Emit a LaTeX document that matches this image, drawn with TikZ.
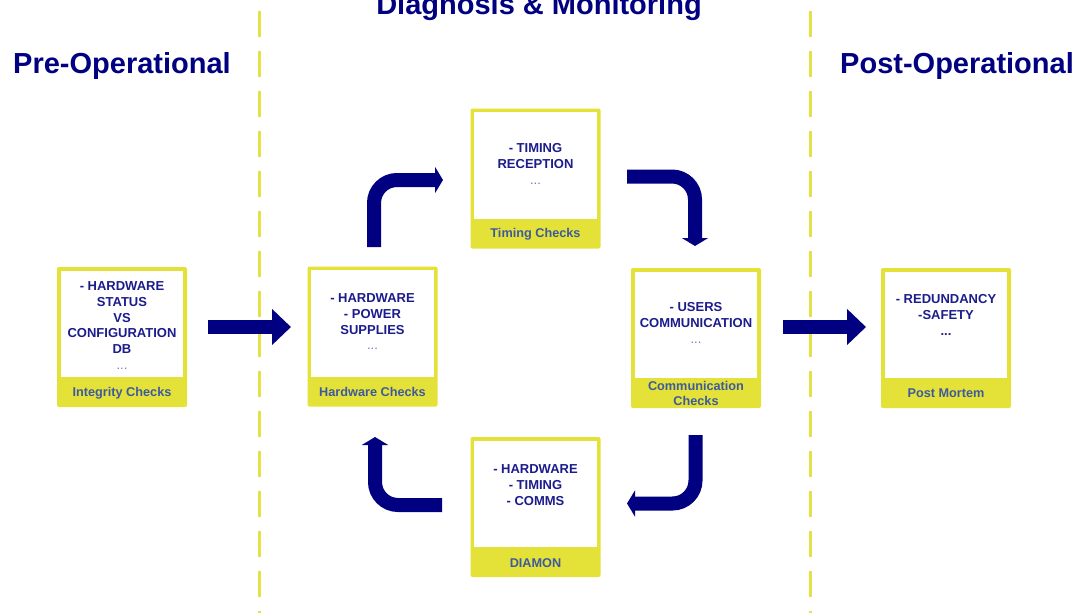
\documentclass[tikz,border=0pt]{standalone}
\usepackage{fontspec}
\setmainfont{Liberation Sans}
\usetikzlibrary{arrows.meta}
\definecolor{ybox}{RGB}{228,226,56}
\definecolor{yline}{RGB}{230,226,70}
\definecolor{navy}{RGB}{0,0,128}
\definecolor{boxtxt}{RGB}{28,28,140}
\definecolor{lbltxt}{RGB}{62,90,158}
\begin{document}
\begin{tikzpicture}[x=1pt,y=-1pt,
 panel/.style={fill=ybox, rounded corners=2pt, minimum width=130pt, minimum height=140pt, inner sep=0pt},
 body/.style={font=\fontsize{13}{15.75}\selectfont\bfseries, text=boxtxt, align=center, inner sep=0pt, anchor=north},
 lbl/.style={font=\fontsize{12.7}{15}\selectfont\bfseries, text=lbltxt, align=center, inner sep=0pt},
 head/.style={font=\fontsize{29}{34}\selectfont\bfseries, text=navy, inner sep=0pt, anchor=base west},
 sep/.style={draw=yline, line width=3pt, dash pattern=on 26pt off 14pt},
 bigarrow/.style={draw=navy, line width=14pt, -{Triangle[length=19pt,width=35pt]}},
 turnarrow/.style={draw=navy, line width=14pt, rounded corners=23pt, -{Triangle[length=8pt,width=26pt]}}
]
\useasboundingbox (0,0) rectangle (1077,613);

% separators
\coordinate (s1t) at (259,11); \coordinate (s1b) at (259,613);
\coordinate (s2t) at (810,11); \coordinate (s2b) at (810,613);
\draw[sep] (s1t) -- (s1b);
\draw[sep] (s2t) -- (s2b);

% headings
\node[head] (pre) at (13,73) {Pre-Operational};
\node[head] (post) at (840,73) {Post-Operational};
\node[head, anchor=base] (diag) at (539,15) {Diagnosis \& Monitoring};

% panels
\node[panel] (int) at (122,337) {};
\node[panel] (hw)  at (372.5,336.5) {};
\node[panel] (tim) at (535.5,178.5) {};
\node[panel] (com) at (696,338) {};
\node[panel] (dia) at (535.5,507) {};
\node[panel] (pm)  at (946,338) {};
\foreach \n in {int,hw,tim,com,dia,pm}{
  \fill[white] ([xshift=4pt,yshift=-4pt]\n.north west) rectangle ([xshift=-4pt,yshift=30pt]\n.south east);
}

% body texts
\node[body] (intt) at (122,281.4) {- HARDWARE\\STATUS\\VS\\CONFIGURATION\\DB\\{\mdseries\color{boxtxt!60}...}};
\node[body] (hwt)  at (372.5,293.4) {- HARDWARE\\- POWER\\SUPPLIES\\{\mdseries\color{boxtxt!60}...}};
\node[body] (timt) at (535.5,143.4) {- TIMING\\RECEPTION\\{\mdseries\color{boxtxt!60}...}};
\node[body] (comt) at (696,302.4) {- USERS\\COMMUNICATION\\{\mdseries\color{boxtxt!60}...}};
\node[body] (diat) at (535.5,464.4) {- HARDWARE\\- TIMING\\- COMMS};
\node[body] (pmt)  at (946,294.4) {- REDUNDANCY\\-SAFETY\\...};

% labels
\node[lbl] (intl) at (122,393) {Integrity Checks};
\node[lbl] (hwl)  at (372.5,392) {Hardware Checks};
\node[lbl] (timl) at (535.5,234.5) {Timing Checks};
\node[lbl] (coml) at (696,393.5) {Communication\\Checks};
\node[lbl] (dial) at (535.5,563) {DIAMON};
\node[lbl] (pml)  at (946,393.5) {Post Mortem};

% arrows
\coordinate (a1s) at (208,327); \coordinate (a1e) at (291,327);
\coordinate (a2s) at (783,327); \coordinate (a2e) at (866,327);
\draw[bigarrow] (a1s) -- (a1e);
\draw[bigarrow] (a2s) -- (a2e);

\coordinate (t1s) at (374,247);   \coordinate (t1e) at (443,180);
\coordinate (t2s) at (627,176.5); \coordinate (t2e) at (695,246);
\coordinate (t3s) at (695.5,435); \coordinate (t3e) at (627,503.5);
\coordinate (t4s) at (442,505);   \coordinate (t4e) at (375,437);
\draw[turnarrow] (t1s) |- (t1e);
\draw[turnarrow] (t2s) -| (t2e);
\draw[turnarrow] (t3s) |- (t3e);
\draw[turnarrow] (t4s) -| (t4e);
\end{tikzpicture}
\end{document}
